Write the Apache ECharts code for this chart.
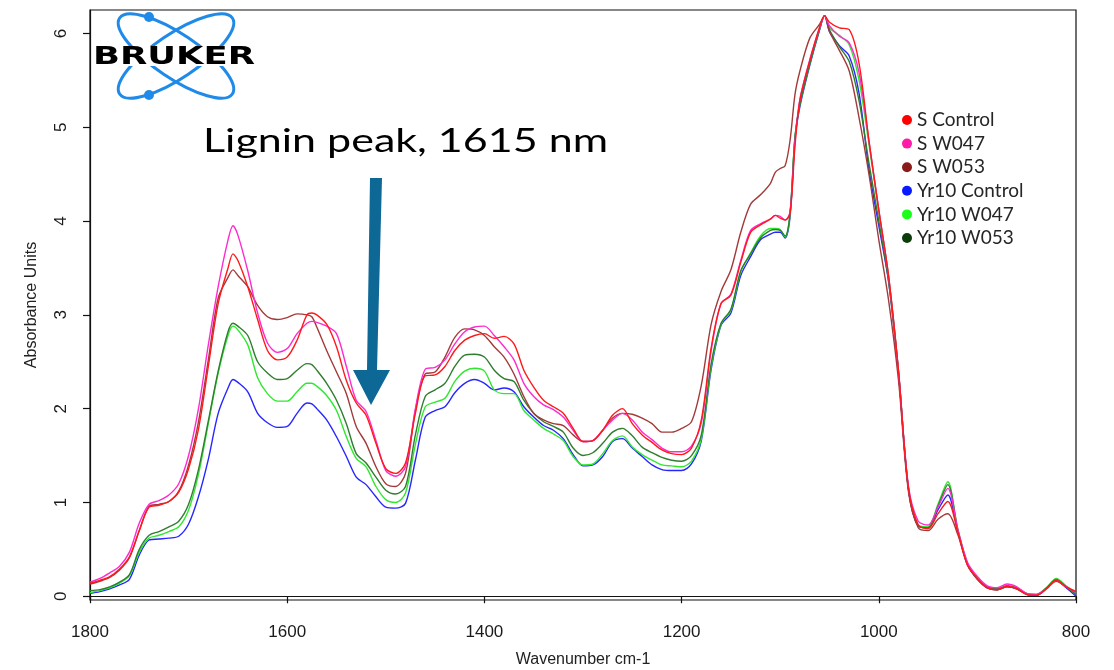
<!DOCTYPE html>
<html>
<head>
<meta charset="utf-8">
<script src="https://cdn.jsdelivr.net/npm/echarts@6/dist/echarts.min.js"></script>
<style>
  html, body { margin: 0; padding: 0; background: #fff; }
  #chart { width: 1114px; height: 670px; }
</style>
</head>
<body>
<div id="chart"></div>
<script>
// wavenumber grid (cm-1)
const wavenumbers = [1800, 1790, 1780, 1770, 1760, 1750, 1740, 1730, 1720, 1710,
  1700, 1690, 1680, 1670, 1660, 1655, 1650, 1640, 1630, 1620,
  1610, 1600, 1590, 1580, 1575, 1570, 1560, 1550, 1540, 1530,
  1520, 1510, 1500, 1490, 1480, 1470, 1460, 1450, 1440, 1430,
  1420, 1410, 1400, 1390, 1380, 1370, 1360, 1350, 1340, 1330,
  1320, 1310, 1300, 1290, 1280, 1270, 1260, 1250, 1240, 1230,
  1220, 1210, 1200, 1190, 1180, 1170, 1160, 1150, 1140, 1130,
  1120, 1110, 1105, 1100, 1095, 1090, 1085, 1080, 1070, 1060,
  1055, 1050, 1040, 1030, 1020, 1010, 1000, 990, 980, 970,
  960, 950, 940, 930, 920, 910, 900, 890, 880, 870,
  860, 850, 840, 830, 820, 810, 800]

const sControl = [0.14, 0.17, 0.21, 0.29, 0.42, 0.70, 0.95, 0.97, 1.01, 1.11,
  1.36, 1.78, 2.45, 3.12, 3.50, 3.65, 3.58, 3.30, 2.95, 2.62,
  2.52, 2.55, 2.73, 3.00, 3.02, 3.00, 2.90, 2.66, 2.30, 2.06,
  1.93, 1.63, 1.36, 1.31, 1.42, 1.95, 2.35, 2.36, 2.45, 2.62,
  2.73, 2.78, 2.80, 2.75, 2.77, 2.69, 2.41, 2.23, 2.09, 2.02,
  1.95, 1.79, 1.65, 1.66, 1.77, 1.93, 2.00, 1.84, 1.72, 1.64,
  1.56, 1.52, 1.51, 1.58, 1.88, 2.65, 3.12, 3.21, 3.56, 3.88,
  3.96, 4.02, 4.06, 4.03, 4.01, 4.08, 4.80, 5.29, 5.71, 6.07,
  6.19, 6.12, 6.06, 6.04, 5.68, 4.86, 4.12, 3.41, 2.40, 1.16,
  0.76, 0.72, 0.88, 1.01, 0.69, 0.33, 0.19, 0.09, 0.07, 0.11,
  0.08, 0.02, 0.01, 0.08, 0.17, 0.10, 0.05]

const sW047 = [0.15, 0.19, 0.25, 0.32, 0.47, 0.78, 0.98, 1.02, 1.08, 1.20,
  1.50, 2.00, 2.68, 3.30, 3.80, 3.95, 3.85, 3.47, 3.02, 2.70,
  2.60, 2.64, 2.80, 2.91, 2.93, 2.92, 2.88, 2.80, 2.45, 2.09,
  1.97, 1.66, 1.34, 1.28, 1.38, 2.00, 2.42, 2.44, 2.52, 2.69,
  2.82, 2.87, 2.88, 2.78, 2.66, 2.52, 2.27, 2.13, 2.04, 1.99,
  1.91, 1.77, 1.65, 1.66, 1.77, 1.88, 1.95, 1.88, 1.75, 1.67,
  1.58, 1.54, 1.54, 1.60, 1.85, 2.62, 3.12, 3.22, 3.58, 3.90,
  3.97, 4.02, 4.06, 4.05, 4.01, 4.10, 4.85, 5.30, 5.72, 6.06,
  6.19, 6.08, 5.97, 5.90, 5.58, 4.85, 4.12, 3.40, 2.40, 1.18,
  0.80, 0.76, 0.95, 1.15, 0.72, 0.36, 0.21, 0.11, 0.09, 0.13,
  0.10, 0.03, 0.02, 0.08, 0.17, 0.10, 0.04]

const sW053 = [0.13, 0.16, 0.20, 0.28, 0.41, 0.70, 0.96, 0.98, 1.01, 1.12,
  1.40, 1.86, 2.52, 3.18, 3.40, 3.48, 3.42, 3.30, 3.10, 2.98,
  2.95, 2.97, 3.01, 3.00, 2.98, 2.87, 2.62, 2.39, 2.16, 1.81,
  1.63, 1.38, 1.20, 1.17, 1.31, 1.98, 2.37, 2.39, 2.55, 2.76,
  2.85, 2.84, 2.78, 2.66, 2.55, 2.37, 2.13, 1.95, 1.88, 1.84,
  1.82, 1.72, 1.65, 1.66, 1.77, 1.90, 1.95, 1.94, 1.90, 1.84,
  1.75, 1.75, 1.79, 1.86, 2.25, 2.90, 3.25, 3.48, 3.88, 4.18,
  4.28, 4.40, 4.52, 4.56, 4.59, 4.86, 5.35, 5.60, 5.95, 6.10,
  6.19, 6.02, 5.82, 5.60, 5.10, 4.50, 3.80, 3.15, 2.30, 1.12,
  0.73, 0.70, 0.82, 0.88, 0.66, 0.33, 0.18, 0.09, 0.07, 0.10,
  0.08, 0.02, 0.01, 0.08, 0.16, 0.10, 0.05]

const yr10Control = [0.03, 0.05, 0.08, 0.12, 0.18, 0.44, 0.60, 0.61, 0.62, 0.64,
  0.77, 1.06, 1.46, 1.95, 2.22, 2.31, 2.28, 2.18, 1.95, 1.85,
  1.80, 1.81, 1.95, 2.06, 2.05, 2.00, 1.88, 1.70, 1.49, 1.27,
  1.19, 1.06, 0.95, 0.94, 0.99, 1.45, 1.91, 1.98, 2.02, 2.17,
  2.27, 2.31, 2.27, 2.20, 2.22, 2.18, 2.02, 1.91, 1.82, 1.77,
  1.68, 1.51, 1.39, 1.40, 1.49, 1.65, 1.68, 1.58, 1.49, 1.40,
  1.35, 1.34, 1.34, 1.41, 1.66, 2.42, 2.89, 3.02, 3.42, 3.62,
  3.80, 3.86, 3.88, 3.88, 3.82, 4.05, 4.88, 5.22, 5.66, 6.04,
  6.19, 6.02, 5.87, 5.76, 5.36, 4.55, 3.95, 3.35, 2.38, 1.15,
  0.75, 0.73, 0.92, 1.08, 0.70, 0.34, 0.18, 0.09, 0.07, 0.10,
  0.08, 0.02, 0.01, 0.08, 0.17, 0.09, 0.00]

const yr10W047 = [0.04, 0.06, 0.09, 0.14, 0.22, 0.47, 0.62, 0.65, 0.69, 0.74,
  0.92, 1.30, 1.84, 2.38, 2.78, 2.88, 2.84, 2.68, 2.33, 2.16,
  2.08, 2.08, 2.18, 2.27, 2.27, 2.24, 2.14, 1.98, 1.70, 1.47,
  1.38, 1.17, 1.03, 1.00, 1.10, 1.62, 2.02, 2.07, 2.11, 2.29,
  2.40, 2.43, 2.40, 2.20, 2.16, 2.16, 1.98, 1.88, 1.79, 1.73,
  1.66, 1.49, 1.40, 1.41, 1.52, 1.66, 1.71, 1.59, 1.51, 1.45,
  1.40, 1.39, 1.38, 1.44, 1.68, 2.45, 2.90, 3.05, 3.46, 3.66,
  3.84, 3.92, 3.92, 3.91, 3.83, 4.08, 4.90, 5.25, 5.68, 6.05,
  6.19, 6.06, 5.98, 5.88, 5.50, 4.82, 4.10, 3.40, 2.40, 1.15,
  0.76, 0.74, 0.98, 1.22, 0.72, 0.35, 0.19, 0.10, 0.07, 0.11,
  0.08, 0.02, 0.01, 0.09, 0.19, 0.11, 0.03]

const yr10W053 = [0.06, 0.07, 0.10, 0.15, 0.23, 0.50, 0.65, 0.69, 0.74, 0.80,
  0.98, 1.35, 1.87, 2.40, 2.82, 2.91, 2.88, 2.78, 2.50, 2.38,
  2.31, 2.32, 2.41, 2.48, 2.47, 2.41, 2.27, 2.09, 1.84, 1.52,
  1.42, 1.27, 1.13, 1.09, 1.17, 1.72, 2.13, 2.20, 2.27, 2.45,
  2.57, 2.58, 2.55, 2.41, 2.32, 2.29, 2.09, 1.95, 1.86, 1.81,
  1.75, 1.58, 1.50, 1.53, 1.63, 1.75, 1.79, 1.71, 1.59, 1.53,
  1.48, 1.45, 1.44, 1.50, 1.72, 2.48, 2.91, 3.06, 3.47, 3.65,
  3.82, 3.90, 3.91, 3.90, 3.84, 4.08, 4.90, 5.25, 5.68, 6.05,
  6.19, 6.04, 5.86, 5.70, 5.28, 4.62, 4.00, 3.35, 2.38, 1.15,
  0.75, 0.73, 0.96, 1.19, 0.71, 0.34, 0.19, 0.10, 0.08, 0.11,
  0.09, 0.03, 0.02, 0.09, 0.18, 0.10, 0.02]

const xTicks = [800, 1000, 1200, 1400, 1600, 1800]
const yTicks = [0, 1, 2, 3, 4, 5, 6]

// legend order as in the picture, plus line colour / legend dot colour
const legendNames = ['S Control', 'S W047', 'S W053', 'Yr10 Control', 'Yr10 W047', 'Yr10 W053']
const lineColors = ['#ff1a1a', '#ff2ad0', '#a33a3a', '#2626ff', '#2ee82e', '#2f7d2f']
const dotColors = ['#ff0000', '#ff1aa8', '#8b1a1a', '#0a1aff', '#1aff1a', '#0b3d0b']
const seriesValues = [sControl, sW047, sW053, yr10Control, yr10W047, yr10W053]

// draw Yr10 first so the S curves end up on top
const drawOrder = [3, 4, 5, 2, 1, 0]

const axisFont = '"Liberation Sans", Arial, sans-serif'
const logoBlue = '#1f8ae8'
const arrowColor = '#0d6896'

// scale a text so it spans the width seen in the picture
const fitScale = (text, font, width) => {
  var ctx = document.createElement('canvas').getContext('2d')
  ctx.font = font
  return width / ctx.measureText(text).width
}

const chartDom = document.getElementById('chart')
const myChart = echarts.init(chartDom, null, { renderer: 'canvas' })
var option

const brukerFont = 'bold 25px "DejaVu Sans"'
const noteFont = '33px Lato'
const noteText = 'Lignin peak, 1615 nm'

option = {
  animation: false,
  backgroundColor: '#fff',
  grid: {
    left: 90,
    right: 38,
    top: 10,
    bottom: 70,
    containLabel: false,
    outerBoundsMode: 'none',
    show: true,
    borderColor: '#111',
    borderWidth: 1.2
  },
  legend: {
    orient: 'vertical',
    left: 897,
    top: 105,
    icon: 'circle',
    itemWidth: 10,
    itemHeight: 10,
    itemGap: 3.6,
    selectedMode: false,
    textStyle: {
      fontFamily: 'Lato',
      fontSize: 19,
      lineHeight: 20,
      color: '#262626'
    },
    data: legendNames.map((n, i) => ({ name: n, itemStyle: { color: dotColors[i] } }))
  },
  xAxis: {
    type: 'value',
    inverse: true,
    min: 800,
    max: 1800,
    interval: 200,
    name: 'Wavenumber cm-1',
    nameLocation: 'middle',
    nameGap: 52,
    nameTextStyle: { fontFamily: axisFont, fontSize: 16, color: '#222' },
    axisLine: { lineStyle: { color: '#111', width: 1.2 } },
    axisTick: { inside: false, length: 7, lineStyle: { color: '#111', width: 1.2 } },
    axisLabel: {
      customValues: xTicks,
      formatter: (v) => String(v),
      margin: 24,
      fontFamily: axisFont,
      fontSize: 17,
      color: '#1a1a1a'
    },
    splitLine: { show: false }
  },
  yAxis: {
    type: 'value',
    min: -0.04,
    max: 6.25,
    name: 'Absorbance Units',
    nameLocation: 'middle',
    nameRotate: 90,
    nameGap: 50,
    nameTextStyle: { fontFamily: axisFont, fontSize: 16, color: '#222' },
    axisLine: { show: true, lineStyle: { color: '#111', width: 1.2 } },
    axisTick: { show: true, inside: false, length: 7, customValues: yTicks, lineStyle: { color: '#111', width: 1.2 } },
    axisLabel: {
      customValues: yTicks,
      formatter: (v) => String(v),
      rotate: 90,
      margin: 20,
      fontFamily: axisFont,
      fontSize: 17,
      color: '#1a1a1a'
    },
    splitLine: { show: false }
  },
  series: drawOrder.map((k) => ({
    name: legendNames[k],
    type: 'line',
    showSymbol: false,
    smooth: 0.3,
    color: lineColors[k],
    lineStyle: { width: 1.4, color: lineColors[k] },
    data: wavenumbers.map((w, i) => [w, seriesValues[k][i]])
  })),
  graphic: [
    // Bruker logo
    {
      type: 'ellipse', x: 176, y: 56, rotation: 34 * Math.PI / 180,
      shape: { cx: 0, cy: 0, rx: 68, ry: 22 },
      style: { fill: 'none', stroke: logoBlue, lineWidth: 3 }, z: 50
    },
    {
      type: 'ellipse', x: 176, y: 56, rotation: -34 * Math.PI / 180,
      shape: { cx: 0, cy: 0, rx: 68, ry: 22 },
      style: { fill: 'none', stroke: logoBlue, lineWidth: 3 }, z: 50
    },
    { type: 'circle', shape: { cx: 149, cy: 17, r: 5 }, style: { fill: logoBlue }, z: 51 },
    { type: 'circle', shape: { cx: 149, cy: 95, r: 5 }, style: { fill: logoBlue }, z: 51 },
    { type: 'rect', shape: { x: 92, y: 46, width: 165, height: 20 }, style: { fill: '#fff' }, z: 52 },
    {
      type: 'text', x: 93, y: 57, z: 53,
      scaleX: fitScale('BRUKER', brukerFont, 162),
      style: { text: 'BRUKER', font: brukerFont, fill: '#000', align: 'left', verticalAlign: 'middle' }
    },
    // annotation
    {
      type: 'text', x: 203, y: 141, z: 60,
      scaleX: fitScale(noteText, noteFont, 405),
      style: { text: noteText, font: noteFont, fill: '#000', align: 'left', verticalAlign: 'middle' }
    },
    {
      type: 'polygon', z: 60,
      shape: { points: [[370, 178], [382, 178], [377, 370], [390, 370], [371, 405], [353, 370], [367, 370]] },
      style: { fill: arrowColor }
    }
  ]
}

option && myChart.setOption(option)
</script>
</body>
</html>
